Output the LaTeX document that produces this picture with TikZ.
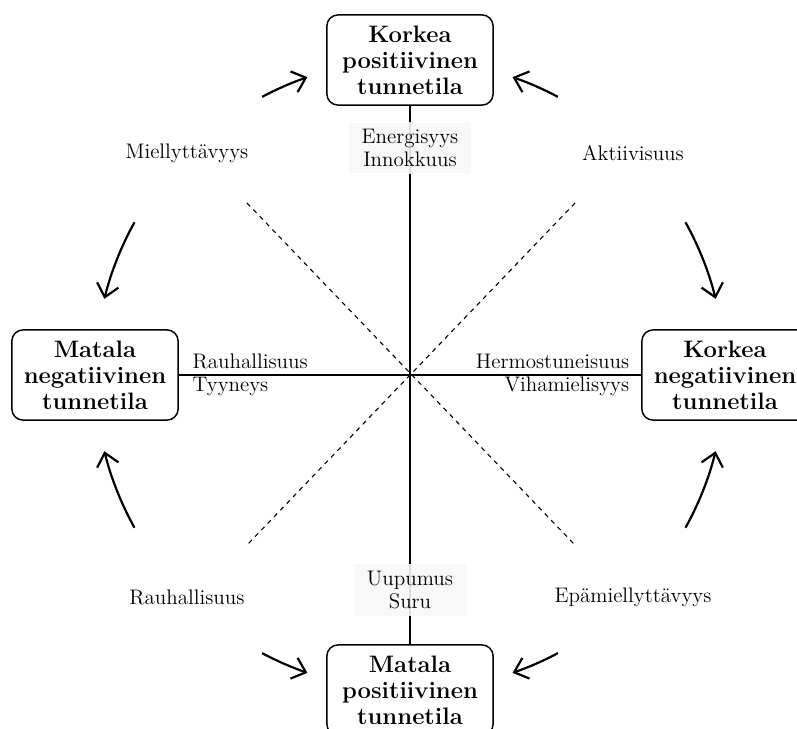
\documentclass[tikz,border=0pt]{standalone}
\usetikzlibrary{calc,positioning,arrows.meta}

\tikzset{
	every node/.append style={font=\fontsize{11.5}{12.3}\selectfont},
	state/.style={draw, line width=0.8pt, rounded corners=6pt, align=center,
		font=\fontsize{13}{14.2}\selectfont\bfseries, minimum width=3.19cm, minimum height=1.73cm},
	axislabel/.style={fill=black!3, fill opacity=0.9, text opacity=1, align=center,
		inner xsep=0.25cm, inner ysep=0.14cm},
	turn/.style={line width=1.2pt, -{Straight Barb[length=2.4mm,width=4.2mm]}},
	diag/.style={line width=0.6pt, dash pattern=on 2.5pt off 2.5pt}
}

\begin{document}
\begin{tikzpicture}[x=0.0192cm, y=0.0192cm]
		\useasboundingbox (-410,375) rectangle (387,-353);
		\coordinate (o) at (0,0);

		\node[state] (kp) at (0,315) {Korkea\\positiivinen\\tunnetila};
		\node[state] (mp) at (0,-315) {Matala\\positiivinen\\tunnetila};
		\node[state] (mn) at (-315,0) {Matala\\negatiivinen\\tunnetila};
		\node[state] (kn) at (315,0) {Korkea\\negatiivinen\\tunnetila};

		% axes and diagonals
		\draw[line width=1pt] (kp) -- (mp);
		\draw[line width=1pt] (mn) -- (kn);
		\draw[diag] (-163,172) -- (165,-170);
		\draw[diag] (165,172) -- (-163,-170);

		% labels along the axes
		\node[axislabel] (ener) at (0,227) {Energisyys\\Innokkuus};
		\node[axislabel] (uup) at (0,-215) {Uupumus\\Suru};
		\node[anchor=west, align=left, xshift=4pt] (rau) at (mn.east) {Rauhallisuus\\Tyyneys};
		\node[anchor=east, align=right, xshift=-3pt] (her) at (kn.west) {Hermostuneisuus\\Vihamielisyys};

		% labels between the boxes
		\node (miel) at (-223,222) {Miellyttävyys};
		\node (akt) at (223,222) {Aktiivisuus};
		\node (rauh) at (-223,-222) {Rauhallisuus};
		\node (epa) at (223,-222) {Epämiellyttävyys};

		\foreach \a/\b in {118/109, 62/71, 151/166, 29/14, 209/194, -29/-14, 242/251, -62/-71} {
			\draw[turn] (o) ++(\a:315) arc[start angle=\a, end angle=\b, radius=315];
		}
\end{tikzpicture}
\end{document}
